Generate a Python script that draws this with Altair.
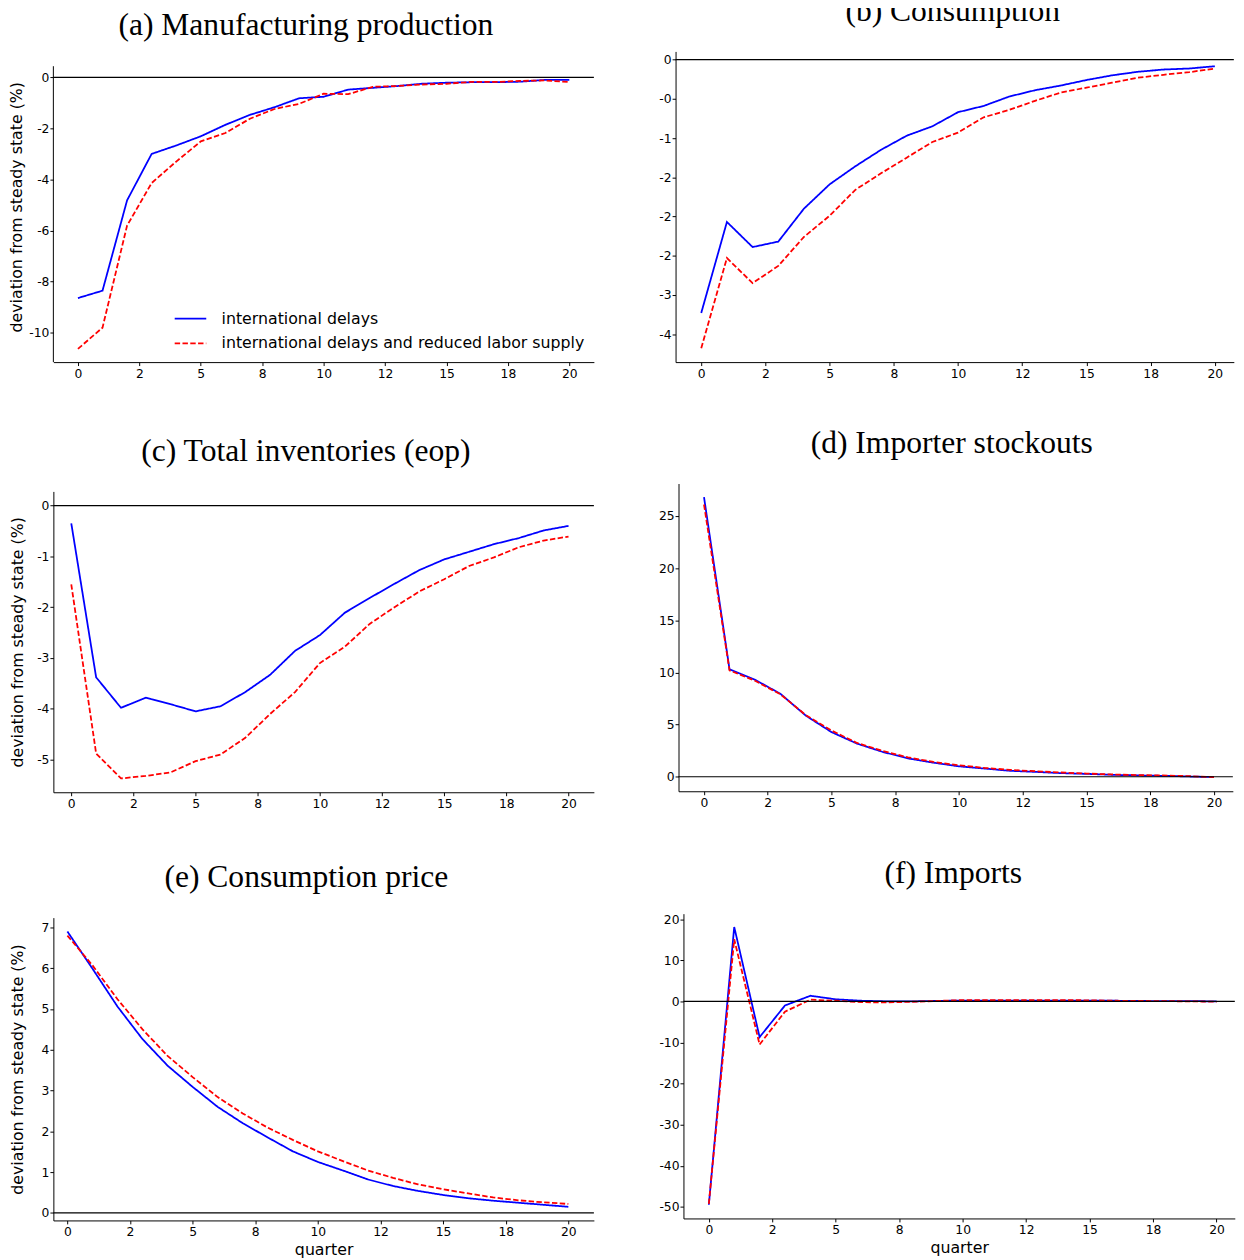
import altair as alt
import pandas as pd

# ---------------- data ----------------
quarters = list(range(21))
series_names = ["international delays", "international delays and reduced labor supply"]
series_colors = ["#0000ff", "#ff0000"]
series_dashes = [[1, 0], [5.5, 2.4]]

x_tick_values = [0, 2.5, 5, 7.5, 10, 12.5, 15, 17.5, 20]
x_tick_labels = ["0", "2", "5", "8", "10", "12", "15", "18", "20"]

panel_titles = ["(a) Manufacturing production", "(b) Consumption", "(c) Total inventories (eop)",
                "(d) Importer stockouts", "(e) Consumption price", "(f) Imports"]
y_axis_title = "deviation from steady state (%)"
x_axis_title = "quarter"

manuf_blue = [-8.65, -8.36, -4.82, -3.00, -2.67, -2.31, -1.86, -1.47, -1.17, -0.82, -0.76,
              -0.48, -0.41, -0.34, -0.25, -0.21, -0.19, -0.19, -0.17, -0.10, -0.10]
manuf_red = [-10.64, -9.81, -5.81, -4.14, -3.30, -2.51, -2.18, -1.62, -1.24, -1.04, -0.64,
             -0.66, -0.37, -0.34, -0.28, -0.25, -0.18, -0.18, -0.14, -0.12, -0.18]
cons_blue = [-3.23, -2.07, -2.39, -2.32, -1.90, -1.59, -1.36, -1.15, -0.97, -0.85, -0.67,
             -0.59, -0.47, -0.39, -0.33, -0.26, -0.20, -0.155, -0.126, -0.113, -0.084]
cons_red = [-3.68, -2.53, -2.85, -2.63, -2.26, -1.99, -1.66, -1.45, -1.25, -1.05, -0.93,
            -0.735, -0.64, -0.525, -0.42, -0.357, -0.294, -0.23, -0.193, -0.16, -0.113]
inv_blue = [-0.35, -3.38, -3.98, -3.78, -3.91, -4.05, -3.95, -3.67, -3.33, -2.86, -2.55,
            -2.11, -1.82, -1.54, -1.27, -1.06, -0.91, -0.76, -0.64, -0.49, -0.40]
inv_red = [-1.55, -4.88, -5.37, -5.32, -5.25, -5.03, -4.90, -4.57, -4.10, -3.67, -3.10,
           -2.78, -2.33, -2.00, -1.69, -1.45, -1.19, -1.02, -0.82, -0.69, -0.61]
stock_blue = [26.8, 10.3, 9.3, 7.95, 5.85, 4.28, 3.18, 2.39, 1.76, 1.35, 1.0,
              0.79, 0.57, 0.47, 0.35, 0.28, 0.19, 0.13, 0.09, 0.03, -0.03]
stock_red = [26.1, 10.2, 9.2, 7.9, 5.9, 4.43, 3.24, 2.48, 1.86, 1.42, 1.10,
             0.85, 0.66, 0.53, 0.41, 0.31, 0.22, 0.16, 0.13, 0.06, -0.03]
price_blue = [6.90, 5.99, 5.06, 4.26, 3.61, 3.09, 2.60, 2.20, 1.85, 1.51, 1.25,
              1.04, 0.82, 0.66, 0.54, 0.44, 0.36, 0.30, 0.25, 0.20, 0.15]
price_red = [6.80, 6.07, 5.24, 4.50, 3.85, 3.33, 2.84, 2.44, 2.09, 1.79, 1.51,
             1.27, 1.04, 0.86, 0.70, 0.58, 0.48, 0.38, 0.31, 0.26, 0.22]
imp_blue = [-49.5, 18.1, -8.7, -1.0, 1.36, 0.5, 0.15, 0.0, 0.0, 0.1, 0.2,
            0.2, 0.2, 0.2, 0.2, 0.2, 0.15, 0.1, 0.05, 0.05, 0.0]
imp_red = [-49.3, 15.1, -10.5, -2.5, 0.4, 0.15, -0.2, -0.25, -0.1, 0.1, 0.3,
           0.3, 0.3, 0.3, 0.3, 0.25, 0.15, 0.1, 0.05, 0.0, -0.1]

a_ytick_values = [0, -2, -4, -6, -8, -10]
a_ytick_labels = ["0", "-2", "-4", "-6", "-8", "-10"]
b_ytick_values = [0, -0.5, -1, -1.5, -2, -2.5, -3, -3.5]
b_ytick_labels = ["0", "-0", "-1", "-2", "-2", "-2", "-3", "-4"]
c_ytick_values = [0, -1, -2, -3, -4, -5]
c_ytick_labels = ["0", "-1", "-2", "-3", "-4", "-5"]
d_ytick_values = [0, 5, 10, 15, 20, 25]
d_ytick_labels = ["0", "5", "10", "15", "20", "25"]
e_ytick_values = [0, 1, 2, 3, 4, 5, 6, 7]
e_ytick_labels = ["0", "1", "2", "3", "4", "5", "6", "7"]
f_ytick_values = [20, 10, 0, -10, -20, -30, -40, -50]
f_ytick_labels = ["20", "10", "0", "-10", "-20", "-30", "-40", "-50"]

LABEL_FONT = "DejaVu Sans"


def label_expr(values, labels):
    expr = "''"
    for v, l in reversed(list(zip(values, labels))):
        expr = f"(datum.value == {float(v)!r}) ? '{l}' : {expr}"
    return expr


def panel(title, blue, red, yvals, ylabels, xdom, ydom, width, height,
          title_dx, title_offset, show_ytitle, show_xtitle, y_title_pad=4,
          legend=None, spine_top=None, title_extra=0):
    df = pd.DataFrame({
        "quarter": quarters + quarters,
        "value": blue + red,
        "series": [series_names[0]] * len(quarters) + [series_names[1]] * len(quarters),
    })
    x_enc = alt.X("quarter:Q",
                  scale=alt.Scale(domain=xdom, nice=False, zero=False),
                  axis=alt.Axis(values=x_tick_values, labelExpr=label_expr(x_tick_values, x_tick_labels),
                                labelPadding=2, titlePadding=4),
                  title=x_axis_title if show_xtitle else None)
    y_axis = alt.Axis(values=yvals, labelExpr=label_expr(yvals, ylabels), labelPadding=1,
                      titlePadding=y_title_pad, domain=spine_top is None)
    y_enc = alt.Y("value:Q", scale=alt.Scale(domain=ydom, nice=False, zero=False),
                  axis=y_axis, title=y_axis_title if show_ytitle else None)
    color_kw = dict(scale=alt.Scale(domain=series_names, range=series_colors))
    dash_kw = dict(scale=alt.Scale(domain=series_names, range=series_dashes))
    if legend is None:
        color_kw["legend"] = None
        dash_kw["legend"] = None
    else:
        color_kw["legend"] = legend
        dash_kw["legend"] = legend
    lines = alt.Chart(df).mark_line(strokeWidth=1.8).encode(
        x=x_enc, y=y_enc,
        color=alt.Color("series:N", **color_kw),
        strokeDash=alt.StrokeDash("series:N", **dash_kw),
        order=alt.Order("quarter:Q"),
    )
    zero = alt.Chart(pd.DataFrame({"k": [0]})).mark_rule(color="black", strokeWidth=1.2).encode(
        y=alt.datum(0))
    layers = [lines, zero]
    if spine_top is not None:
        spine = alt.Chart(pd.DataFrame({"k": [0]})).mark_rule(color="black", strokeWidth=1).encode(
            x=alt.value(0), y=alt.datum(ydom[0]), y2=alt.datum(spine_top))
        layers.append(spine)
    if title_extra > 0:
        ttext = ["", title]
        tparams = dict(lineHeight=title_extra)
    else:
        ttext = title
        tparams = {}
    return alt.layer(*layers).properties(
        width=width, height=height,
        title=alt.TitleParams(ttext, font="Liberation Serif", fontSize=32, fontWeight="normal",
                              color="black", anchor="middle", frame="group", dx=title_dx,
                              offset=title_offset, **tparams),
    )


legend_a = alt.Legend(orient="none", legendX=122, legendY=254, title=None, symbolType="stroke",
                      symbolSize=1024, symbolStrokeWidth=1.8, labelFontSize=16, labelFont=LABEL_FONT,
                      labelColor="black", labelOffset=14.5, rowPadding=-8.5, labelLimit=600)

pa = panel(panel_titles[0], manuf_blue, manuf_red, a_ytick_values, a_ytick_labels,
           [-1, 21], [-11.16, 1.017], 548, 315, -18, 10, True, False,
           legend=legend_a, spine_top=0.437)
pb = panel(panel_titles[1], cons_blue, cons_red, b_ytick_values, b_ytick_labels,
           [-1, 20.74], [-3.857, 0.105], 566, 315, -2, 24, False, False)
pc = panel(panel_titles[2], inv_blue, inv_red, c_ytick_values, c_ytick_labels,
           [-0.72, 21.02], [-5.642, 0.278], 548, 305, -18, 24, True, False, y_title_pad=11,
           title_extra=14)
pd_ = panel(panel_titles[3], stock_blue, stock_red, d_ytick_values, d_ytick_labels,
            [-1, 20.74], [-1.39, 28.11], 562, 312, -4, 24, False, False, title_extra=6)
pe = panel(panel_titles[4], price_blue, price_red, e_ytick_values, e_ytick_labels,
           [-0.56, 21.02], [-0.184, 7.24], 548, 307, -17.5, 24, True, True, y_title_pad=16,
           title_extra=2.7)
pf = panel(panel_titles[5], imp_blue, imp_red, f_ytick_values, f_ytick_labels,
           [-1, 20.72], [-52.84, 21.34], 559, 309, -6, 24, False, True, title_extra=6.3)

chart = alt.concat(pa, pb, pc, pd_, pe, pf, columns=2, align="none",
                   spacing={"row": 40.1, "column": 62.8}).resolve_scale(
    color="independent", strokeDash="independent"
).resolve_legend(color="independent", strokeDash="independent").properties(
    padding={"left": 0, "top": -22.7, "right": 0, "bottom": 0}
).configure_view(stroke="transparent").configure_axis(
    labelFont=LABEL_FONT, labelFontSize=12.5, labelColor="black",
    titleFont=LABEL_FONT, titleFontSize=16, titleFontWeight="normal", titleColor="black",
    tickColor="black", tickSize=3.5, tickWidth=1, domainColor="black", domainWidth=1,
    grid=False,
)

chart.save("out.html", embed_options={"renderer": "svg", "actions": False})
